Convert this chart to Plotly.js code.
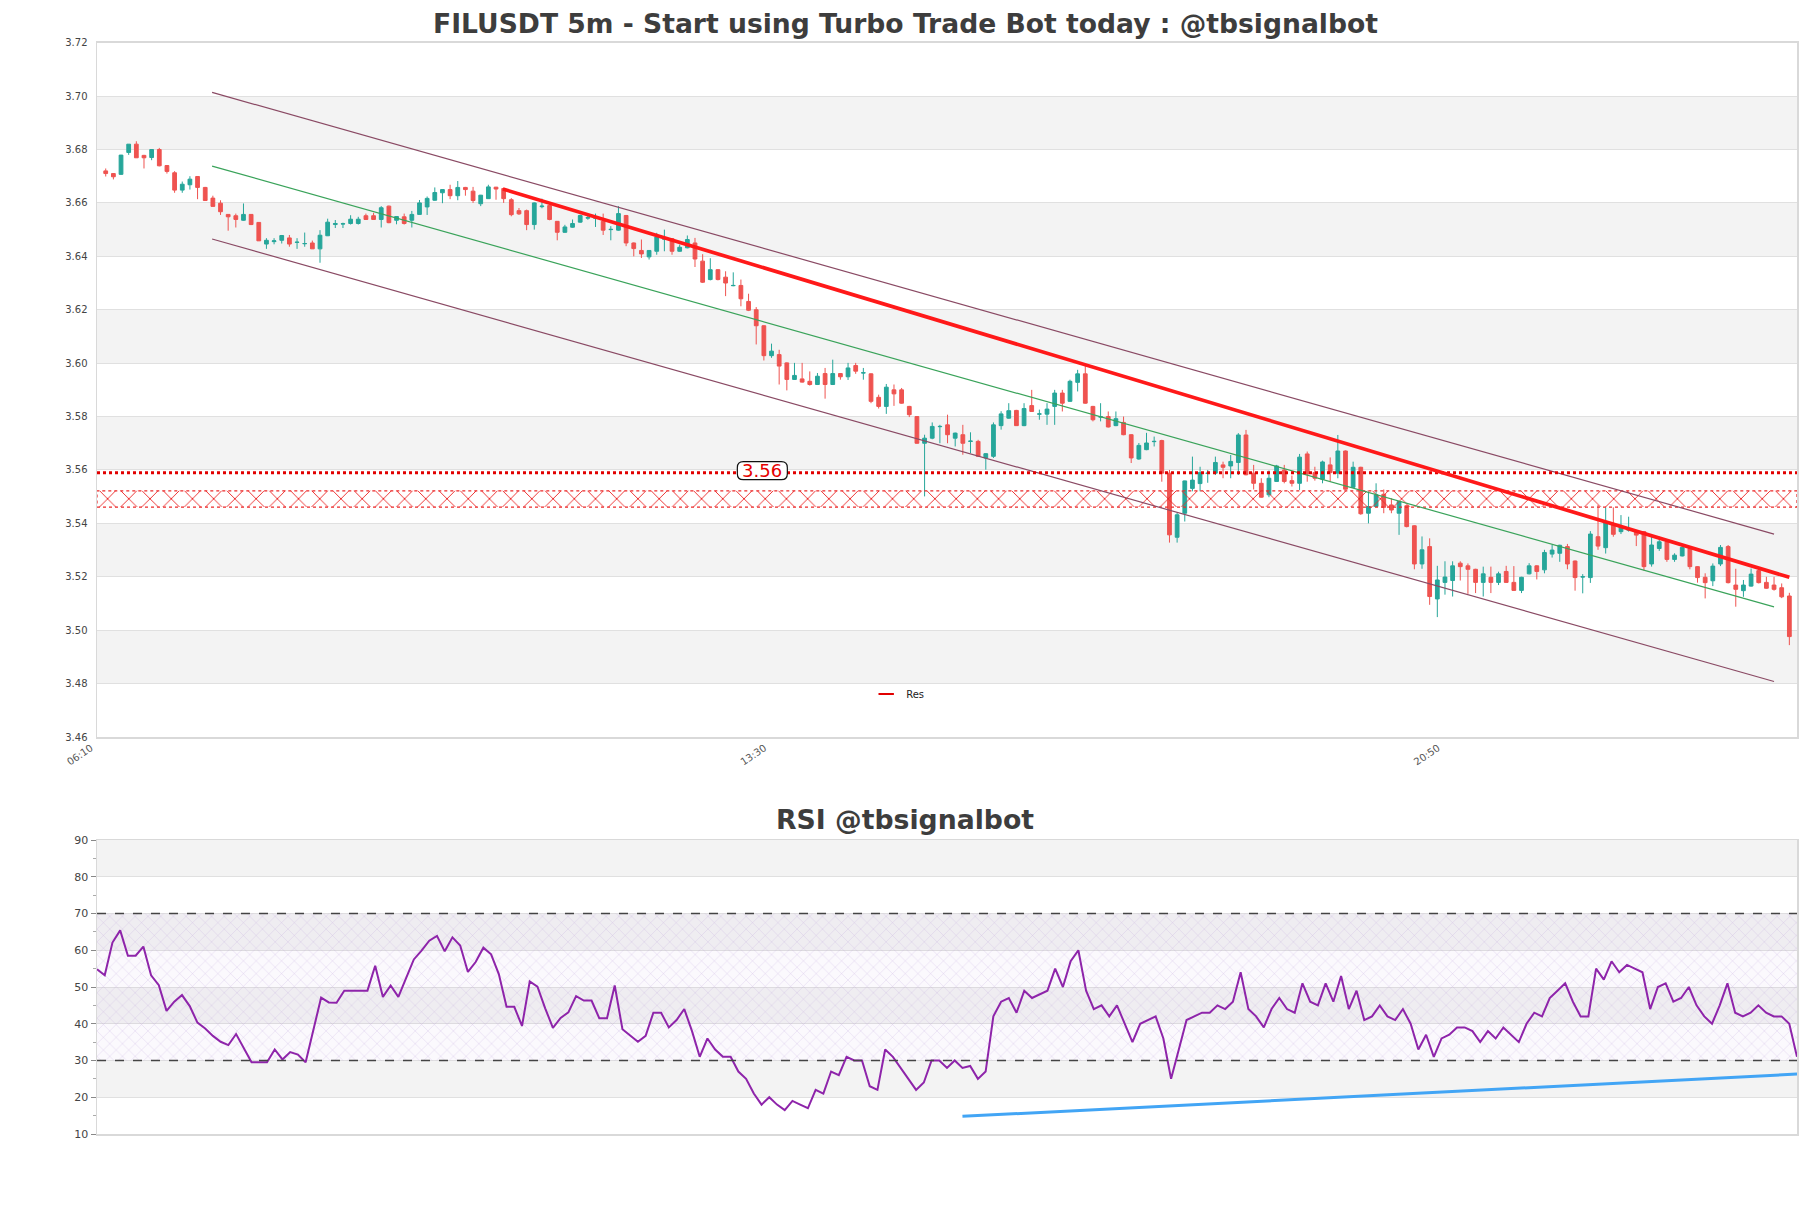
<!DOCTYPE html>
<html><head><meta charset="utf-8">
<script src="https://cdn.plot.ly/plotly-3.0.1.min.js"></script>
<style>html,body{margin:0;padding:0;background:#fff}#chart{width:1811px;height:1208px}</style>
</head><body><div id="chart"></div>
<script>
// ---- candle data (5m, index 0 = 06:15) ----
const opens=[3.6720,3.6710,3.6707,3.6789,3.6820,3.6778,3.6770,3.6800,3.6740,3.6713,
3.6648,3.6668,3.6699,3.6658,3.6618,3.6599,3.6557,3.6552,3.6535,3.6557,
3.6527,3.6446,3.6455,3.6460,3.6469,3.6452,3.6447,3.6450,3.6428,3.6477,
3.6519,3.6521,3.6523,3.6523,3.6552,3.6552,3.6538,3.6588,3.6535,3.6548,
3.6535,3.6557,3.6585,3.6610,3.6638,3.6650,3.6627,3.6658,3.6644,3.6597,
3.6616,3.6659,3.6654,3.6612,3.6571,3.6571,3.6519,3.6586,3.6590,3.6531,
3.6490,3.6509,3.6528,3.6543,3.6543,3.6531,3.6500,3.6498,3.6553,3.6450,
3.6422,3.6398,3.6419,3.6464,3.6466,3.6419,3.6432,3.6450,3.6382,3.6313,
3.6350,3.6322,3.6290,3.6291,3.6231,3.6200,3.6140,3.6028,3.6032,3.6001,
3.5939,3.5941,3.5932,3.5920,3.5961,3.5920,3.5961,3.5949,3.5991,3.5963,
3.5960,3.5872,3.5838,3.5900,3.5900,3.5838,3.5800,3.5700,3.5719,3.5762,
3.5769,3.5719,3.5732,3.5707,3.5707,3.5645,3.5651,3.5766,3.5794,3.5823,
3.5766,3.5841,3.5809,3.5809,3.5838,3.5888,3.5857,3.5928,3.5960,3.5838,
3.5798,3.5800,3.5766,3.5778,3.5732,3.5641,3.5676,3.5706,3.5710,3.5588,
3.5348,3.5438,3.5531,3.5549,3.5587,3.5588,3.5619,3.5615,3.5628,3.5731,
3.5588,3.5550,3.5507,3.5557,3.5600,3.5560,3.5550,3.5660,3.5590,3.5565,
3.5619,3.5588,3.5671,3.5535,3.5610,3.5438,3.5463,3.5509,3.5469,3.5438,
3.5466,3.5391,3.5248,3.5313,3.5117,3.5179,3.5186,3.5251,3.5241,3.5228,
3.5179,3.5198,3.5179,3.5220,3.5179,3.5149,3.5211,3.5241,3.5226,3.5285,
3.5288,3.5313,3.5259,3.5199,3.5197,3.5350,3.5309,3.5396,3.5369,3.5375,
3.5371,3.5369,3.5248,3.5306,3.5331,3.5265,3.5278,3.5306,3.5238,3.5198,
3.5185,3.5248,3.5313,3.5169,3.5148,3.5165,3.5223,3.5179,3.5169,3.5159,
3.5128];
const highs=[3.6729,3.6712,3.6780,3.6820,3.6831,3.6780,3.6801,3.6806,3.6741,3.6719,
3.6680,3.6700,3.6700,3.6660,3.6627,3.6610,3.6558,3.6560,3.6598,3.6558,
3.6528,3.6468,3.6468,3.6480,3.6480,3.6468,3.6489,3.6459,3.6498,3.6541,
3.6536,3.6526,3.6554,3.6548,3.6560,3.6563,3.6588,3.6590,3.6550,3.6560,
3.6570,3.6611,3.6624,3.6658,3.6650,3.6668,3.6682,3.6660,3.6660,3.6630,
3.6668,3.6660,3.6655,3.6618,3.6581,3.6575,3.6602,3.6616,3.6592,3.6532,
3.6518,3.6538,3.6556,3.6556,3.6560,3.6560,3.6513,3.6588,3.6555,3.6452,
3.6463,3.6422,3.6488,3.6500,3.6468,3.6444,3.6478,3.6469,3.6408,3.6393,
3.6352,3.6344,3.6340,3.6313,3.6260,3.6210,3.6142,3.6073,3.6050,3.6003,
3.6001,3.6001,3.5969,3.5963,3.5982,3.6013,3.5963,3.6001,3.6001,3.5982,
3.5962,3.5882,3.5922,3.5920,3.5907,3.5840,3.5802,3.5732,3.5778,3.5769,
3.5807,3.5740,3.5769,3.5741,3.5713,3.5663,3.5778,3.5820,3.5850,3.5825,
3.5850,3.5900,3.5826,3.5850,3.5900,3.5900,3.5938,3.5975,3.5994,3.5840,
3.5850,3.5819,3.5819,3.5800,3.5734,3.5701,3.5739,3.5725,3.5713,3.5600,
3.5440,3.5560,3.5650,3.5612,3.5600,3.5650,3.5631,3.5656,3.5738,3.5750,
3.5619,3.5569,3.5598,3.5619,3.5619,3.5579,3.5660,3.5669,3.5612,3.5635,
3.5647,3.5731,3.5673,3.5631,3.5612,3.5519,3.5550,3.5527,3.5494,3.5482,
3.5470,3.5393,3.5351,3.5344,3.5241,3.5258,3.5258,3.5258,3.5250,3.5230,
3.5238,3.5238,3.5219,3.5241,3.5240,3.5200,3.5251,3.5243,3.5301,3.5319,
3.5320,3.5323,3.5261,3.5210,3.5371,3.5469,3.5460,3.5460,3.5431,3.5425,
3.5373,3.5371,3.5356,3.5350,3.5333,3.5288,3.5319,3.5308,3.5240,3.5213,
3.5250,3.5319,3.5319,3.5230,3.5188,3.5231,3.5231,3.5200,3.5200,3.5175,
3.5140];
const lows=[3.6699,3.6688,3.6705,3.6780,3.6769,3.6729,3.6760,3.6737,3.6710,3.6638,
3.6638,3.6650,3.6614,3.6609,3.6587,3.6555,3.6496,3.6508,3.6533,3.6517,
3.6458,3.6428,3.6445,3.6448,3.6436,3.6428,3.6436,3.6428,3.6376,3.6476,
3.6506,3.6506,3.6519,3.6519,3.6536,3.6536,3.6508,3.6524,3.6520,3.6519,
3.6508,3.6556,3.6555,3.6608,3.6599,3.6614,3.6610,3.6627,3.6600,3.6588,
3.6615,3.6612,3.6600,3.6550,3.6555,3.6498,3.6500,3.6580,3.6535,3.6460,
3.6488,3.6507,3.6526,3.6537,3.6510,3.6480,3.6460,3.6496,3.6438,3.6400,
3.6394,3.6388,3.6406,3.6419,3.6406,3.6417,3.6430,3.6360,3.6300,3.6310,
3.6310,3.6251,3.6288,3.6213,3.6195,3.6070,3.6010,3.6020,3.5920,3.5898,
3.5937,3.5927,3.5916,3.5918,3.5867,3.5918,3.5938,3.5937,3.5960,3.5938,
3.5850,3.5830,3.5810,3.5840,3.5848,3.5798,3.5698,3.5501,3.5715,3.5700,
3.5700,3.5688,3.5657,3.5663,3.5650,3.5601,3.5645,3.5751,3.5792,3.5766,
3.5764,3.5817,3.5788,3.5769,3.5769,3.5819,3.5855,3.5894,3.5848,3.5782,
3.5782,3.5759,3.5764,3.5730,3.5626,3.5638,3.5674,3.5688,3.5556,3.5328,
3.5328,3.5407,3.5520,3.5520,3.5552,3.5581,3.5569,3.5569,3.5581,3.5580,
3.5527,3.5496,3.5498,3.5555,3.5550,3.5538,3.5525,3.5556,3.5560,3.5550,
3.5556,3.5569,3.5526,3.5533,3.5432,3.5400,3.5461,3.5438,3.5438,3.5357,
3.5385,3.5228,3.5230,3.5095,3.5049,3.5133,3.5126,3.5186,3.5136,3.5139,
3.5126,3.5139,3.5169,3.5177,3.5147,3.5139,3.5209,3.5190,3.5213,3.5272,
3.5256,3.5228,3.5148,3.5138,3.5177,3.5301,3.5287,3.5350,3.5360,3.5369,
3.5315,3.5223,3.5238,3.5297,3.5256,3.5256,3.5276,3.5228,3.5178,3.5119,
3.5165,3.5240,3.5175,3.5088,3.5125,3.5163,3.5175,3.5155,3.5148,3.5120,
3.4944];
const closes=[3.6710,3.6698,3.6779,3.6820,3.6769,3.6769,3.6800,3.6739,3.6718,3.6648,
3.6670,3.6689,3.6658,3.6609,3.6587,3.6567,3.6548,3.6538,3.6557,3.6519,
3.6458,3.6460,3.6458,3.6478,3.6446,3.6453,3.6448,3.6428,3.6479,3.6528,
3.6523,3.6522,3.6539,3.6539,3.6538,3.6538,3.6582,3.6526,3.6549,3.6523,
3.6557,3.6600,3.6617,3.6639,3.6650,3.6627,3.6658,3.6650,3.6609,3.6629,
3.6660,3.6652,3.6616,3.6556,3.6559,3.6519,3.6600,3.6588,3.6538,3.6490,
3.6510,3.6523,3.6553,3.6545,3.6544,3.6498,3.6501,3.6560,3.6450,3.6429,
3.6409,3.6422,3.6473,3.6466,3.6419,3.6434,3.6463,3.6390,3.6303,3.6350,
3.6313,3.6300,3.6291,3.6241,3.6198,3.6140,3.6028,3.6045,3.5989,3.5939,
3.5954,3.5929,3.5920,3.5951,3.5920,3.5961,3.5949,3.5982,3.5970,3.5964,
3.5857,3.5838,3.5910,3.5885,3.5850,3.5807,3.5700,3.5719,3.5763,3.5763,
3.5732,3.5738,3.5700,3.5708,3.5651,3.5661,3.5769,3.5810,3.5822,3.5766,
3.5830,3.5819,3.5810,3.5828,3.5888,3.5850,3.5932,3.5960,3.5850,3.5788,
3.5799,3.5761,3.5792,3.5732,3.5645,3.5692,3.5701,3.5707,3.5588,3.5357,
3.5432,3.5559,3.5562,3.5590,3.5588,3.5628,3.5610,3.5632,3.5731,3.5582,
3.5550,3.5498,3.5569,3.5615,3.5557,3.5550,3.5648,3.5585,3.5569,3.5630,
3.5590,3.5671,3.5528,3.5610,3.5436,3.5463,3.5507,3.5460,3.5450,3.5482,
3.5388,3.5248,3.5301,3.5126,3.5188,3.5199,3.5241,3.5238,3.5228,3.5179,
3.5211,3.5179,3.5211,3.5179,3.5149,3.5198,3.5241,3.5220,3.5291,3.5300,
3.5318,3.5248,3.5197,3.5200,3.5360,3.5315,3.5402,3.5359,3.5390,3.5376,
3.5356,3.5238,3.5319,3.5331,3.5265,3.5281,3.5310,3.5238,3.5197,3.5178,
3.5240,3.5310,3.5178,3.5153,3.5169,3.5210,3.5178,3.5157,3.5153,3.5125,
3.4976];
// ---- RSI values (same 5m index) ----
const rsiValues=[54.8,53.2,62.1,65.4,58.5,58.5,61.0,53.2,50.5,43.5,
46.0,47.8,44.8,40.3,38.7,36.7,35.1,34.2,37.2,33.5,
29.5,29.5,29.5,33.0,30.3,32.3,31.6,29.5,38.7,47.1,
45.8,45.7,49.0,49.0,49.0,49.0,55.8,47.3,50.4,47.3,
52.4,57.5,59.9,62.6,63.9,59.7,63.5,61.3,54.1,56.8,
60.7,58.9,53.5,44.6,44.6,39.4,51.5,50.1,44.2,38.9,
41.6,43.1,47.5,46.3,46.3,41.5,41.5,50.4,38.5,36.9,
35.1,36.7,43.0,43.0,39.0,41.0,44.0,38.0,31.0,36.0,
33.0,31.0,31.0,27.0,25.0,21.0,18.0,20.0,18.0,16.5,
19.0,18.0,17.0,22.0,21.0,27.0,26.0,31.0,30.0,30.0,
23.0,22.0,33.0,31.0,28.0,25.0,22.0,24.0,30.0,30.0,
28.0,30.0,28.0,28.5,25.0,27.0,42.0,46.0,47.0,43.0,
49.0,47.0,48.0,49.0,55.0,50.0,57.0,60.0,49.0,44.0,
45.0,42.0,45.0,40.0,35.0,40.0,41.0,42.0,36.0,25.0,
33.0,41.0,42.0,43.0,43.0,45.0,44.0,46.0,54.0,44.0,
42.0,39.0,44.0,47.0,44.0,43.0,51.0,46.0,45.0,51.0,
46.0,53.0,44.0,49.0,41.0,42.0,45.0,42.0,41.0,44.0,
40.0,33.0,37.0,31.0,36.0,37.0,39.0,39.0,38.0,35.0,
38.0,36.0,39.0,37.0,35.0,40.0,43.0,42.0,47.0,49.0,
51.0,46.0,42.0,42.0,55.0,52.0,57.0,54.0,56.0,55.0,
54.0,44.0,50.0,51.0,46.0,47.0,50.0,45.0,42.0,40.0,
45.0,51.0,43.0,42.0,43.0,45.0,43.0,42.0,42.0,40.0,
31.0];
// ---- axes ----
const xTickVals=[-1,87,175];
const xTickText=['06:10','13:30','20:50'];
const priceTicks=[3.46,3.48,3.50,3.52,3.54,3.56,3.58,3.60,3.62,3.64,3.66,3.68,3.70,3.72];
const rsiTicks=[10,20,30,40,50,60,70,80,90];
// ---- overlays ----
const channelX=[13.9,218.0];
const channelUpper=[3.7014,3.5360];
const channelMid=[3.6738,3.5087];
const channelLower=[3.6465,3.4808];
const resLineX=[51.9,220];
const resLineY=[3.6652,3.5198];
const resLevel=3.559;
const resLabel='3.56';
const resLabelX=85.8;
const zoneLow=3.5461, zoneHigh=3.5522;
const rsiTrendX=[112,220];
const rsiTrendY=[14.8,26.3];
const rsiUpper=70, rsiLower=30;

const idx=opens.map((_,i)=>i);
const rIdx=rsiValues.map((_,i)=>i);
const xMin=-1.14, xMax=221.0;
const FONT='DejaVu Sans';
const GREEN='#26a69a', RED='#ef5350';

const traces=[];
traces.push({type:'scatter',mode:'lines',x:[xMin,xMax,xMax,xMin,xMin],y:[zoneLow,zoneLow,zoneHigh,zoneHigh,zoneLow],
  fill:'toself',fillcolor:'rgba(0,0,0,0)',fillpattern:{shape:'x',fgcolor:'rgb(235,40,40)',bgcolor:'rgba(255,255,255,0)',size:15,solidity:0.12},
  line:{color:'rgb(235,40,40)',width:1.2,dash:'dot'},showlegend:false,hoverinfo:'skip',xaxis:'x',yaxis:'y'});
traces.push({type:'scatter',mode:'lines',x:channelX,y:channelUpper,line:{color:'#8a4a64',width:1.2},showlegend:false,hoverinfo:'skip'});
traces.push({type:'scatter',mode:'lines',x:channelX,y:channelMid,line:{color:'#3aa35a',width:1.2},showlegend:false,hoverinfo:'skip'});
traces.push({type:'scatter',mode:'lines',x:channelX,y:channelLower,line:{color:'#8a4a64',width:1.2},showlegend:false,hoverinfo:'skip'});
traces.push({type:'candlestick',x:idx,open:opens,high:highs,low:lows,close:closes,
  increasing:{line:{color:GREEN,width:1},fillcolor:GREEN},
  decreasing:{line:{color:RED,width:1},fillcolor:RED},
  whiskerwidth:0,showlegend:false,hoverinfo:'skip',xaxis:'x',yaxis:'y'});
traces.push({type:'scatter',mode:'lines',x:[xMin,xMax],y:[resLevel,resLevel],line:{color:'rgb(225,0,0)',width:3,dash:'dot'},showlegend:false,hoverinfo:'skip'});
traces.push({type:'scatter',mode:'lines',x:resLineX,y:resLineY,line:{color:'rgb(255,25,25)',width:3.7},showlegend:false,hoverinfo:'skip'});
traces.push({type:'scatter',mode:'markers',x:[null],y:[null],name:'Res',marker:{symbol:'line-ew-open',size:11,color:'rgb(225,0,0)',line:{color:'rgb(225,0,0)',width:2}},showlegend:true,hoverinfo:'skip'});

traces.push({type:'scatter',mode:'lines',x:[0,220,220,0,0],y:[rsiLower,rsiLower,rsiUpper,rsiUpper,rsiLower],
  fill:'toself',fillcolor:'rgba(0,0,0,0)',fillpattern:{shape:'x',fgcolor:'rgba(160,120,200,0.45)',bgcolor:'rgba(150,110,200,0.04)',size:9,solidity:0.08},
  line:{width:0},showlegend:false,hoverinfo:'skip',xaxis:'x2',yaxis:'y2'});
traces.push({type:'scatter',mode:'lines',x:rIdx,y:rsiValues,line:{color:'#8e24aa',width:2},showlegend:false,hoverinfo:'skip',xaxis:'x2',yaxis:'y2'});
traces.push({type:'scatter',mode:'lines',x:rsiTrendX,y:rsiTrendY,line:{color:'#42a5f5',width:3},showlegend:false,hoverinfo:'skip',xaxis:'x2',yaxis:'y2'});

const shapes=[];
for(let i=1;i<priceTicks.length-1;i+=2){
  shapes.push({type:'rect',xref:'x domain',yref:'y',x0:0,x1:1,y0:priceTicks[i],y1:priceTicks[i+1],fillcolor:'#f3f3f3',line:{width:0},layer:'below'});
}
for(let i=1;i<rsiTicks.length-1;i+=2){
  shapes.push({type:'rect',xref:'x2 domain',yref:'y2',x0:0,x1:1,y0:rsiTicks[i],y1:rsiTicks[i+1],fillcolor:'#f3f3f3',line:{width:0},layer:'below'});
}
[rsiUpper,rsiLower].forEach(v=>shapes.push({type:'line',xref:'x2 domain',yref:'y2',x0:0,x1:1,y0:v,y1:v,line:{color:'#444',width:1.3,dash:'dash'}}));
shapes.push({type:'path',xref:'x',yref:'y',xsizemode:'pixel',ysizemode:'pixel',xanchor:resLabelX,yanchor:resLevel,
  path:'M -19,-7 L 19,-7 Q 25,-7 25,-1 L 25,5 Q 25,11 19,11 L -19,11 Q -25,11 -25,5 L -25,-1 Q -25,-7 -19,-7 Z',
  fillcolor:'#fff',line:{color:'#111',width:1.2},layer:'above'});

const axisLine={showline:true,mirror:true,linecolor:'#d9d9d9',linewidth:1.5,zeroline:false};
const layout={
  width:1811,height:1208,paper_bgcolor:'#fff',plot_bgcolor:'#fff',
  margin:{l:97,r:14,t:0,b:0,autoexpand:false},
  font:{family:FONT,color:'#444'},
  title:{text:'<b>FILUSDT 5m - Start using Turbo Trade Bot today : @tbsignalbot</b>',x:0.5,xref:'container',y:1-23.5/1208,yref:'container',yanchor:'middle',
    font:{family:FONT,size:26.6,color:'#3d3d3d'}},
  showlegend:true,
  legend:{x:0.471,y:1-694/1208,xref:'paper',yref:'paper',xanchor:'center',yanchor:'middle',orientation:'h',bgcolor:'rgba(0,0,0,0)',font:{family:FONT,size:10,color:'#222'},itemwidth:30},
  xaxis:Object.assign({domain:[0,1],range:[xMin,xMax],anchor:'y',tickmode:'array',tickvals:xTickVals,ticktext:xTickText,tickangle:-34,
    showgrid:false,ticks:'',ticklabelshift:-7,tickfont:{family:FONT,size:10,color:'#555'},rangeslider:{visible:false}},axisLine),
  yaxis:Object.assign({domain:[1-737/1208,1-42.7/1208],range:[3.46,3.72],anchor:'x',tickmode:'array',tickvals:priceTicks,ticktext:priceTicks.map(v=>v.toFixed(2)),
    showgrid:true,gridcolor:'#e0e0e0',gridwidth:1,ticks:'',tickfont:{family:FONT,size:10,color:'#444'},ticklabelstandoff:6},axisLine),
  xaxis2:Object.assign({domain:[0,1],range:[0,220],anchor:'y2',showticklabels:false,showgrid:false,ticks:''},axisLine),
  yaxis2:Object.assign({domain:[1-1134/1208,1-840/1208],range:[10,90],anchor:'x2',tickmode:'array',tickvals:rsiTicks,
    showgrid:true,gridcolor:'#e0e0e0',ticks:'outside',ticklen:5,tickcolor:'#888',tickwidth:1,
    minor:{tickmode:'linear',tick0:5,dtick:10,ticks:'outside',ticklen:3,tickcolor:'#aaa',showgrid:false},
    tickfont:{family:FONT,size:11,color:'#444'}},axisLine),
  shapes:shapes,
  annotations:[
    {xref:'x',yref:'y',x:resLabelX,y:resLevel,yshift:2,text:resLabel,showarrow:false,font:{family:FONT,size:18,color:'rgb(230,0,0)'},xanchor:'center',yanchor:'middle'},
    {xref:'paper',yref:'paper',x:(905-97)/1700,y:1-819/1208,text:'<b>RSI @tbsignalbot</b>',showarrow:false,font:{family:FONT,size:26.7,color:'#3d3d3d'},xanchor:'center',yanchor:'middle'}
  ]
};
Plotly.newPlot('chart',traces,layout,{displayModeBar:false,staticPlot:true});
</script></body></html>
